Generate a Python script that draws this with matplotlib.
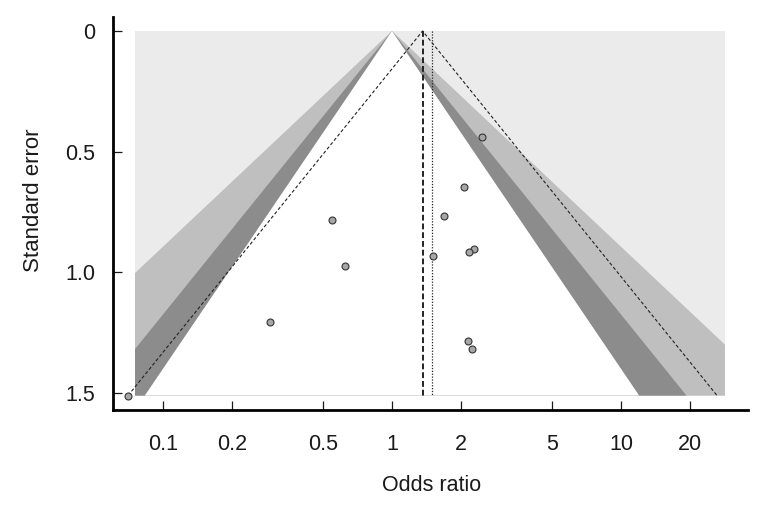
import matplotlib
matplotlib.use("Agg")
import matplotlib.pyplot as plt
import numpy as np
from matplotlib.patches import Polygon, Rectangle

# study estimates (odds ratio) and standard errors read off the funnel
odds_ratio = [2.465, 2.07, 1.69, 2.28, 2.16, 1.515, 2.14, 2.24, 0.548, 0.625, 0.294, 0.0706]
std_error = [0.438, 0.645, 0.767, 0.905, 0.916, 0.932, 1.285, 1.319, 0.783, 0.973, 1.207, 1.511]

# pooled estimates (vertical lines)
pooled_dashed = 1.36
pooled_dotted = 1.49

# contour z values (p = 0.01, 0.05, 0.10) from outside in, and their shades
contour_z = [2.576, 1.96, 1.645]
contour_col = ["#bfbfbf", "#8c8c8c", "#ffffff"]
back_col = "#ebebeb"

# extent of the shaded region
region_x = [0.0755, 28.5]
se_max = max(std_error)

x_ticks = [0.1, 0.2, 0.5, 1, 2, 5, 10, 20]
x_tick_labels = ["0.1", "0.2", "0.5", "1", "2", "5", "10", "20"]
y_ticks = [0, 0.5, 1.0, 1.5]
y_tick_labels = ["0", "0.5", "1.0", "1.5"]

plt.rcParams["font.family"] = ["Liberation Sans", "DejaVu Sans"]

fig = plt.figure(figsize=(7.7, 5.14), dpi=100)
ax = fig.add_axes([113 / 770, 104 / 514, 635 / 770, 393 / 514])
ax.set_xscale("log")
ax.set_xlim(0.0605, 35.86)
ax.set_ylim(1.5706, -0.058)

back = Rectangle((region_x[0], 0), region_x[1] - region_x[0], se_max,
                 facecolor=back_col, edgecolor="none", zorder=1)
ax.add_patch(back)

for z, col in zip(contour_z, contour_col):
    lo = np.exp(-z * se_max)
    hi = np.exp(z * se_max)
    tri = Polygon([(lo, se_max), (1, 0), (hi, se_max)], closed=True,
                  facecolor=col, edgecolor="none", zorder=2)
    ax.add_patch(tri)
    tri.set_clip_path(back)

# 95% pseudo confidence funnel around pooled estimate
lp = np.log(pooled_dashed)
ax.plot([np.exp(lp - 1.96 * se_max), pooled_dashed, np.exp(lp + 1.96 * se_max)],
        [se_max, 0, se_max], color="#222222", lw=0.8, ls=(0, (3, 2)), zorder=3)

ax.plot([pooled_dashed, pooled_dashed], [0, se_max], color="#222222", lw=1.4,
        ls=(0, (3, 1.5)), zorder=3)
ax.plot([pooled_dotted, pooled_dotted], [0, se_max], color="#222222", lw=0.9,
        ls=(0, (1, 1.3)), zorder=3)

ax.plot(odds_ratio, std_error, "o", ms=5, mfc="#a6a6a6", mec="#333333",
        mew=0.8, zorder=4, clip_on=False)

ax.spines["top"].set_visible(False)
ax.spines["right"].set_visible(False)
ax.spines["left"].set_linewidth(2)
ax.spines["bottom"].set_linewidth(2)

ax.set_xticks(x_ticks)
ax.set_xticklabels(x_tick_labels)
ax.xaxis.set_minor_locator(matplotlib.ticker.NullLocator())
ax.set_yticks(y_ticks)
ax.set_yticklabels(y_tick_labels)
ax.tick_params(direction="in", length=6.5, width=0.9, labelsize=15.5,
               colors="#1a1a1a")
ax.tick_params(axis="x", pad=17)
ax.tick_params(axis="y", pad=13)

ax.set_xlabel("Odds ratio", fontsize=15.5, color="#1a1a1a")
ax.set_ylabel("Standard error", fontsize=16, color="#1a1a1a")
ax.xaxis.set_label_coords(0.502, -0.165)
ax.yaxis.set_label_coords(-0.109, 0.534)

fig.savefig("out.png", dpi=100)
